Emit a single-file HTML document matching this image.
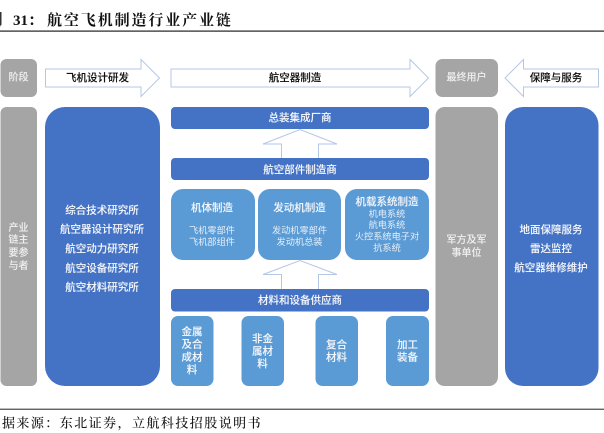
<!DOCTYPE html>
<html><head><meta charset="utf-8">
<style>
html,body{margin:0;padding:0;background:#fff;width:604px;height:433px;overflow:hidden}
svg{display:block}
text{font-family:"Liberation Sans","Noto Sans CJK SC",sans-serif;text-anchor:middle;dominant-baseline:central;fill:#f4f6fb;font-size:10.5px;font-weight:500;stroke:#f4f6fb;stroke-width:.08px}
.k{fill:#111;stroke:#111;stroke-width:.12px}
.s{font-size:9.2px;font-weight:400;fill:#e6eef8;stroke:none}
.g{fill:#eee;stroke:#eee;stroke-width:.08px;font-size:10px}
.t{font-family:"Liberation Serif","Noto Serif CJK SC",serif;text-anchor:start;dominant-baseline:auto;fill:#111;stroke:none}
</style></head><body>
<svg width="604" height="433" viewBox="0 0 604 433" xmlns="http://www.w3.org/2000/svg">
<text class="t" x="-13" y="25" style="font-size:15px;font-weight:700">图</text>
<rect x="0" y="12" width="1.5" height="13" fill="#333"/>
<text class="t" x="13" y="25" style="font-size:15px;font-weight:700">31：</text>
<text class="t" x="47" y="25" style="font-size:15px;font-weight:700;letter-spacing:1.9px">航空飞机制造行业产业链</text>
<rect x="0" y="30.5" width="604" height="1.2" fill="#222"/>

<rect x="0.5" y="59" width="36.5" height="38" rx="6" fill="#a5a5a5"/>
<rect x="435.5" y="59" width="62.5" height="38" rx="7" fill="#a5a5a5"/>
<g fill="#fff" stroke="#b4c7e7" stroke-width="1">
<path d="M45.5 69H141V59.5L159.5 78L141 96.5V87H45.5Z"/>
<path d="M171 69H410V59.5L428.5 78L410 96.5V87H171Z"/>
<path d="M598.5 69H523.5V59.5L505 78L523.5 96.5V87H598.5Z"/>
<path d="M281.5 158V144H263L300 129.5L337 144H318.5V158"/>
<path d="M281.5 289V274.5H263L300 260.5L337 274.5H318.5V289"/>
</g>

<rect x="0.5" y="107" width="36.5" height="279" rx="6" fill="#a5a5a5"/>
<rect x="45" y="107" width="115" height="279" rx="20" fill="#4472c4"/>
<rect x="435.5" y="107" width="62.5" height="279" rx="9" fill="#a5a5a5"/>
<rect x="505" y="107" width="93.5" height="279" rx="18" fill="#4472c4"/>

<rect x="171" y="107" width="258" height="22" rx="4" fill="#4472c4"/>
<rect x="171" y="158" width="258" height="22" rx="4" fill="#4472c4"/>
<rect x="171" y="289" width="258" height="22.5" rx="4" fill="#4472c4"/>

<rect x="171" y="189" width="84" height="71" rx="12" fill="#5b9bd5"/>
<rect x="258" y="189" width="83" height="71" rx="12" fill="#5b9bd5"/>
<rect x="345" y="189" width="84" height="71" rx="12" fill="#5b9bd5"/>

<rect x="171" y="316" width="42.5" height="70" rx="7" fill="#5b9bd5"/>
<rect x="241.5" y="316" width="42.5" height="70" rx="7" fill="#5b9bd5"/>
<rect x="315.5" y="316" width="42.5" height="70" rx="7" fill="#5b9bd5"/>
<rect x="386" y="316" width="43" height="70" rx="7" fill="#5b9bd5"/>

<text class="g" x="18.5" y="78">阶段</text>
<text class="k" x="97.5" y="78">飞机设计研发</text>
<text class="k" x="295" y="78">航空器制造</text>
<text class="g" x="466.5" y="78">最终用户</text>
<text class="k" x="556" y="78">保障与服务</text>

<text class="g" x="18.5" y="228.5">产业</text>
<text class="g" x="18.5" y="240.5">链主</text>
<text class="g" x="18.5" y="253.5">要参</text>
<text class="g" x="18.5" y="266.5">与者</text>

<text x="102" y="210.5">综合技术研究所</text>
<text x="102" y="229.5">航空器设计研究所</text>
<text x="102" y="249">航空动力研究所</text>
<text x="102" y="268.5">航空设备研究所</text>
<text x="102" y="287.5">航空材料研究所</text>

<text x="300" y="118">总装集成厂商</text>
<text x="300" y="170">航空部件制造商</text>
<text x="300" y="300.5">材料和设备供应商</text>

<text x="212" y="208">机体制造</text>
<text class="s" x="212" y="230.5">飞机零部件</text>
<text class="s" x="212" y="242">飞机部组件</text>
<text x="299.5" y="208">发动机制造</text>
<text class="s" x="299.5" y="230.5">发动机零部件</text>
<text class="s" x="299.5" y="242">发动机总装</text>
<text x="387" y="202">机载系统制造</text>
<text class="s" x="387" y="214">机电系统</text>
<text class="s" x="387" y="225">航电系统</text>
<text class="s" x="387" y="236.5">火控系统电子对</text>
<text class="s" x="387" y="248">抗系统</text>

<text x="192" y="332">金属</text>
<text x="192" y="344.5">及合</text>
<text x="192" y="357.5">成材</text>
<text x="192" y="370">料</text>
<text x="262.5" y="339">非金</text>
<text x="262.5" y="351.5">属材</text>
<text x="262.5" y="364">料</text>
<text x="336.5" y="345">复合</text>
<text x="336.5" y="357.5">材料</text>
<text x="407.5" y="345">加工</text>
<text x="407.5" y="357.5">装备</text>

<text class="g" x="466.5" y="240.5">军方及军</text>
<text class="g" x="466.5" y="253.5">事单位</text>

<text x="551" y="230">地面保障服务</text>
<text x="551" y="249">雷达监控</text>
<text x="551" y="268">航空器维修维护</text>

<rect x="0" y="408.7" width="604" height="1" fill="#222"/>
<text class="t" x="-12.5" y="427.5" style="font-size:13px;letter-spacing:1.45px">数据来源：东北证券，立航科技招股说明书</text>
</svg>
</body></html>
